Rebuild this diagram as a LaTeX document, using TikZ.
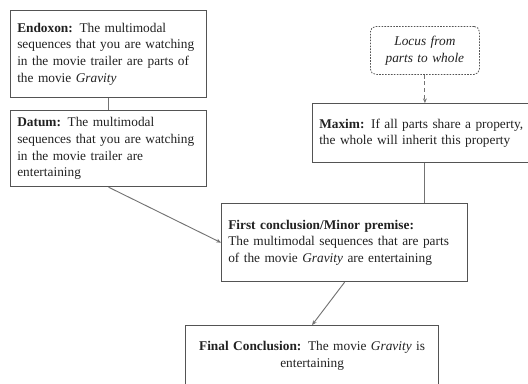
\documentclass[tikz,border=0pt]{standalone}
\usepackage{fontspec}
\setmainfont{Liberation Serif}
\usetikzlibrary{arrows.meta}
\definecolor{BoxClr}{rgb}{0.33,0.33,0.33}
\definecolor{LineClr}{rgb}{0.45,0.45,0.45}
\definecolor{TextClr}{rgb}{0.13,0.13,0.13}

\begin{document}
\begin{tikzpicture}[x=0.75pt,y=-0.75pt,
  box/.style={draw=BoxClr,line width=0.9pt,anchor=north west,inner xsep=5pt,
    align=left,text=TextClr,font=\fontsize{10}{12.5}\selectfont},
  locusbox/.style={box,rounded corners=4pt,dashed,dash pattern=on 1.2pt off 1pt,
    line width=0.6pt,align=center,font=\fontsize{10}{12.5}\selectfont\itshape},
  link/.style={draw=LineClr,line width=0.7pt},
  tip/.style={link,-{Stealth[length=3.5pt,width=3pt]}}]
\useasboundingbox (0,0) rectangle (528,383);

\node[box,text width=137pt,minimum height=65.25pt] (Endoxon) at (10,10)
  {\textbf{Endoxon:} The multimodal\\ sequences that you are watching\\ in the movie trailer are parts of\\ the movie \textit{Gravity}};
\node[box,text width=137pt,minimum height=57pt] (Datum) at (10,110)
  {\textbf{Datum:} The multimodal\\ sequences that you are watching\\ in the movie trailer are\\ entertaining};

\node[locusbox,text width=71.75pt,minimum height=36pt] (Locus) at (370,26)
  {Locus from\\ parts to whole};
\node[box,text width=170pt,minimum height=44.25pt] (Maxim) at (312,103)
  {\textbf{Maxim:} If all parts share a property,\\ the whole will inherit this property};

\node[box,text width=174.5pt,minimum height=58.5pt] (Premise) at (221,203)
  {\textbf{First conclusion/Minor premise:}\\ The multimodal sequences that are parts\\ of the movie \textit{Gravity} are entertaining};

\node[box,text width=179.75pt,minimum height=45pt,align=center] (Final) at (185,325)
  {\textbf{Final Conclusion:} The movie \textit{Gravity} is\\ entertaining};

\draw[link] (Endoxon.south) -- (Datum.north);
\draw[tip] (Datum.south) -- (Premise.west);
\draw[tip,densely dashed] (Locus.south) -- (Locus.south |- Maxim.north);
\draw[link] (Locus.south |- Maxim.south) -- (Locus.south |- Premise.north);
\draw[tip] (Premise.south) -- (Final.north);

\end{tikzpicture}
\end{document}
